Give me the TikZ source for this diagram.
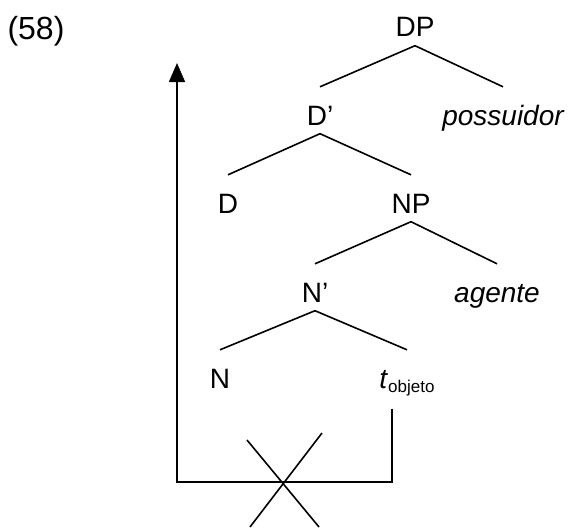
\documentclass[tikz,border=0pt]{standalone}
\usepackage{fontspec}
\setmainfont{Liberation Sans}
\usetikzlibrary{arrows.meta}

\begin{document}
\begin{tikzpicture}[
    x=1pt, y=-1pt,
    cat/.style={
        anchor=base, inner sep=0pt,
        text height=38pt, text depth=8.5pt,
        font=\fontsize{28}{32}\selectfont
    },
    branch/.style={line width=1.6pt, draw=black},
    movement/.style={line width=1.6pt, draw=black, -{Triangle[width=16pt,length=19pt]}}
]

\useasboundingbox (0,0) rectangle (572,527);

% Example number
\node[anchor=base, inner sep=0pt, font=\fontsize{32}{36}\selectfont] (num) at (36,40) {(58)};

% Tree nodes
\node[cat] (dp)   at (415,37)  {DP};
\node[cat] (dbar) at (320,125) {D’};
\node[cat, font=\fontsize{28}{32}\selectfont\itshape] (poss) at (503,125) {possuidor};
\node[cat] (d)    at (228,213) {D};
\node[cat] (np)   at (411,213) {NP};
\node[cat] (nbar) at (315,302) {N’};
\node[cat, font=\fontsize{28}{32}\selectfont\itshape] (agt) at (497,302) {agente};
\node[cat] (n)    at (220,388) {N};
\node[cat] (tobj) at (407,388) {\textit{t}\raisebox{-4pt}{\fontsize{17}{20}\selectfont objeto}};

% Branches
\draw[branch] (dp.south) -- (dbar.north);
\draw[branch] (dp.south) -- (poss.north);
\draw[branch] (dbar.south) -- (d.north);
\draw[branch] (dbar.south) -- (np.north);
\draw[branch] (np.south) -- (nbar.north);
\draw[branch] (np.south) -- (agt.north);
\draw[branch] (nbar.south) -- (n.north);
\draw[branch] (nbar.south) -- (tobj.north);

% Movement of the object (blocked)
\coordinate (foot) at ([xshift=-15pt,yshift=-12pt]tobj.south);
\coordinate (rc)   at (392,482);
\coordinate (lc)   at (177,482);
\coordinate (land) at (177,63);
\draw[movement] (foot) -- (rc) -- (lc) -- (land);

% Cross over the path
\coordinate (blk) at (283,482);
\draw[branch] ([shift={(-36,-42)}]blk) -- ++(72,87);
\draw[branch] ([shift={(39,-49)}]blk) -- ++(-72,94);

\end{tikzpicture}
\end{document}
